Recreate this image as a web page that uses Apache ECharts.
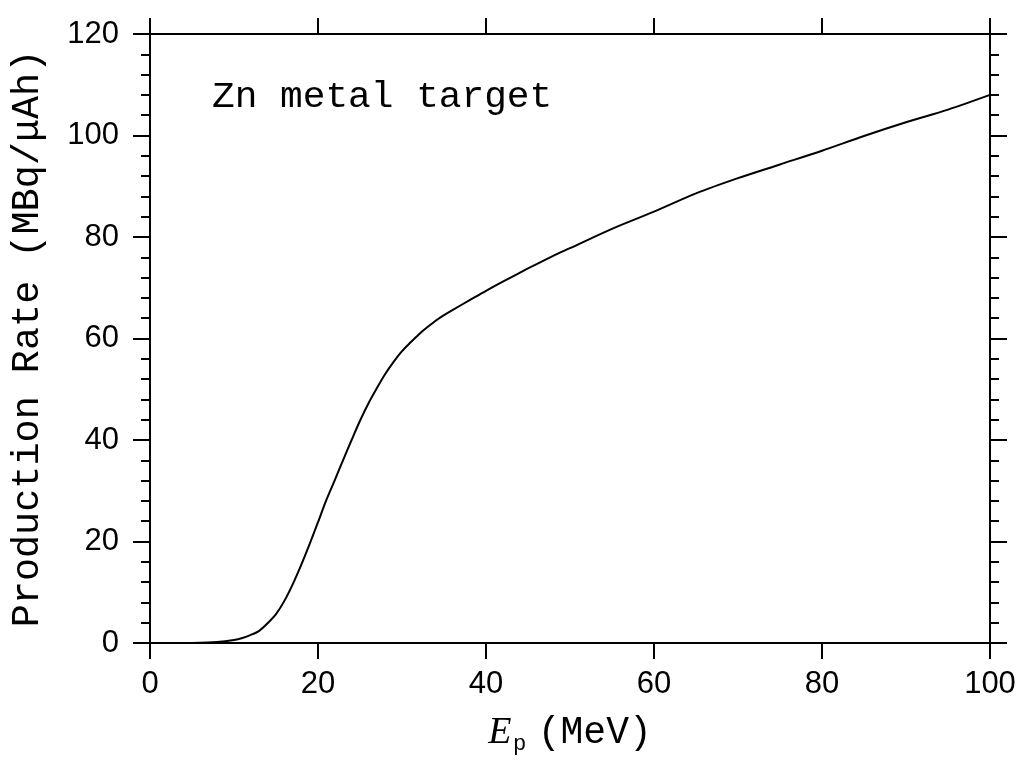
<!DOCTYPE html>
<html>
<head>
<meta charset="utf-8">
<script src="https://cdn.jsdelivr.net/npm/echarts@6/dist/echarts.min.js"></script>
<style>
html,body{margin:0;padding:0;background:#fff;}
#chart{width:1018px;height:765px;}
</style>
</head>
<body>
<div id="chart"></div>
<script>
// Proton energy (MeV)
const energy = [5, 8, 10, 11, 12, 13, 14, 15, 16, 17, 18, 19, 20, 21, 22, 23, 24, 25, 26, 27, 28, 29, 30, 31, 32, 33, 34, 35, 36, 38, 40, 42, 45, 48, 50, 55, 60, 65, 70, 75, 80, 85, 90, 95, 100];
// Production rate (MBq/uAh)
const rate = [0, 0.2, 0.6, 1.0, 1.6, 2.4, 3.9, 5.7, 8.3, 11.6, 15.4, 19.5, 23.8, 28.2, 32.1, 36.1, 40.0, 43.8, 47.2, 50.2, 53.0, 55.4, 57.5, 59.2, 60.8, 62.2, 63.5, 64.6, 65.6, 67.5, 69.4, 71.2, 73.8, 76.3, 77.8, 81.6, 85.0, 88.6, 91.6, 94.3, 97.0, 99.9, 102.6, 105.1, 108.0];
const xTicks = [0, 20, 40, 60, 80, 100];
const yTicks = [0, 20, 40, 60, 80, 100, 120];
const titleText = 'Zn metal target';
const yName = 'Production Rate (MBq/\u03bcAh)';

const series = energy.map((e, i) => [e, rate[i]]);
const mono = '"Liberation Mono", monospace';
const sans = '"Liberation Sans", Arial, sans-serif';
const axisLine = {show: true, onZero: false, lineStyle: {color: '#000', width: 2}};

const chart = echarts.init(document.getElementById('chart'), null, {renderer: 'canvas'});
chart.setOption({
  backgroundColor: '#fff',
  animation: false,
  title: {
    text: titleText,
    left: 207, top: 73,
    textStyle: {fontFamily: mono, fontSize: 37.8, fontWeight: 'normal', color: '#000'}
  },
  grid: {left: 150, right: 28, top: 34, bottom: 122, containLabel: false, outerBoundsMode: 'none'},
  xAxis: [{
    type: 'value', position: 'bottom', min: 0, max: 100, interval: 20,
    axisLine: axisLine,
    axisTick: {show: true, inside: false, length: 16, lineStyle: {color: '#000', width: 2}},
    minorTick: {show: false},
    splitLine: {show: false},
    axisLabel: {margin: 26, fontFamily: sans, fontSize: 31, color: '#000',
      formatter: v => xTicks.includes(v) ? String(v) : ''},
    name: '{e|E}{p|p}{t|(MeV)}',
    nameLocation: 'middle', nameGap: 68,
    nameTextStyle: {
      rich: {
        e: {fontFamily: '"Liberation Serif", serif', fontStyle: 'italic', fontSize: 38, color: '#000', lineHeight: 44, verticalAlign: 'middle'},
        p: {fontFamily: sans, fontSize: 22, color: '#000', padding: [22, 0, 0, 2], verticalAlign: 'bottom'},
        t: {fontFamily: mono, fontSize: 38, color: '#000', lineHeight: 44, verticalAlign: 'middle', padding: [0, 0, 0, 12]}
      }
    }
  }, {
    type: 'value', position: 'top', min: 0, max: 100, interval: 20,
    axisLine: axisLine,
    axisTick: {show: true, inside: false, length: 16, lineStyle: {color: '#000', width: 2}},
    minorTick: {show: false},
    splitLine: {show: false},
    axisLabel: {show: false}
  }],
  yAxis: [{
    type: 'value', position: 'left', min: 0, max: 120, interval: 20,
    axisLine: axisLine,
    axisTick: {show: true, inside: false, length: 17, lineStyle: {color: '#000', width: 2}},
    minorTick: {show: true, splitNumber: 5, length: 9, lineStyle: {color: '#000', width: 2}},
    splitLine: {show: false},
    axisLabel: {margin: 31, fontFamily: sans, fontSize: 31, color: '#000',
      formatter: v => yTicks.includes(v) ? String(v) : ''},
    name: yName,
    nameLocation: 'middle', nameGap: 103, nameRotate: 90,
    nameTextStyle: {fontFamily: mono, fontSize: 38.5, color: '#000'}
  }, {
    type: 'value', position: 'right', min: 0, max: 120, interval: 20,
    axisLine: axisLine,
    axisTick: {show: true, inside: false, length: 17, lineStyle: {color: '#000', width: 2}},
    minorTick: {show: true, splitNumber: 5, length: 9, lineStyle: {color: '#000', width: 2}},
    splitLine: {show: false},
    axisLabel: {show: false}
  }],
  series: [{
    type: 'line', xAxisIndex: 0, yAxisIndex: 0,
    data: series, smooth: 0.3, symbol: 'none',
    lineStyle: {color: '#000', width: 2}
  }]
});
</script>
</body>
</html>
